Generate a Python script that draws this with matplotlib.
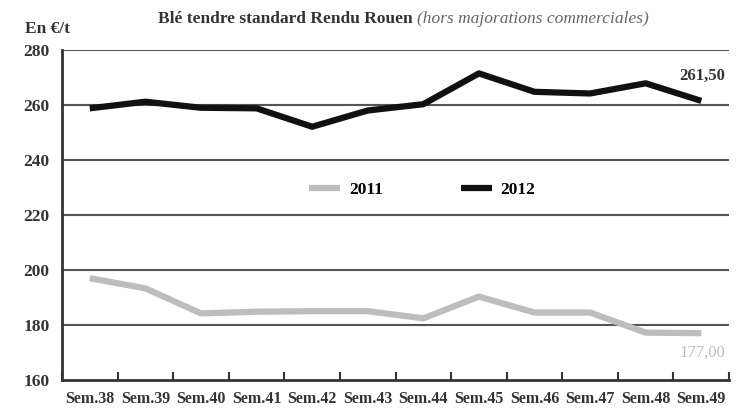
import numpy as np
import matplotlib
matplotlib.use("Agg")
import matplotlib.pyplot as plt

weeks = ["Sem.38", "Sem.39", "Sem.40", "Sem.41", "Sem.42", "Sem.43",
         "Sem.44", "Sem.45", "Sem.46", "Sem.47", "Sem.48", "Sem.49"]
prix_2011 = [197, 193.3, 184.2, 184.8, 185, 185, 182.4, 190.3, 184.5, 184.5, 177.2, 177.0]
prix_2012 = [258.8, 261.2, 259, 258.8, 252.1, 258, 260.3, 271.5, 264.8, 264.2, 267.9, 261.5]
yticks = [160, 180, 200, 220, 240, 260, 280]

plt.rcParams["font.family"] = ["Liberation Serif", "DejaVu Serif"]

fig = plt.figure(figsize=(7.47, 4.17), dpi=100)
ax = fig.add_axes([0.083, 0.089, 0.893, 0.791])

x = np.arange(len(weeks))
ax.plot(x, prix_2011, color="#bdbdbd", lw=4.5, solid_capstyle="butt", label="2011")
ax.plot(x, prix_2012, color="#111111", lw=4.5, solid_capstyle="butt", label="2012")

ax.set_xlim(-0.5, len(weeks) - 0.5)
ax.set_ylim(160, 280)
ax.set_yticks(yticks)
ax.set_yticklabels([str(v) for v in yticks], fontweight="bold", fontsize=12.5, color="#333333")
ax.tick_params(axis="y", length=0, pad=9)

# category ticks on the boundaries, labels centred
ax.set_xticks(np.arange(len(weeks) + 1) - 0.5)
ax.set_xticklabels([])
ax.set_xticks(x, minor=True)
ax.set_xticklabels(weeks, minor=True, fontweight="bold", fontsize=11.5, color="#333333")
ax.tick_params(axis="x", which="major", direction="in", length=6, width=1.5, color="#333333")
ax.tick_params(axis="x", which="minor", length=0, pad=8)

for v in yticks[1:]:
    ax.axhline(v, color="#555555", lw=1.5, zorder=0)

for s in ["top", "right"]:
    ax.spines[s].set_visible(False)
for s in ["left", "bottom"]:
    ax.spines[s].set_color("#333333")
    ax.spines[s].set_linewidth(2)

ax.text(x[-1] - 0.4, prix_2012[-1] + 7.5, "261,50", fontsize=12, fontweight="bold",
        color="#333333", ha="left")
ax.text(x[-1] - 0.4, prix_2011[-1] - 8.5, "177,00", fontsize=12,
        color="#bbbbbb", ha="left")

ax.legend(loc="center", bbox_to_anchor=(0.54, 0.575), ncol=2, frameon=False,
          handlelength=1.8, handletextpad=0.5, columnspacing=4.5,
          prop={"weight": "bold", "size": 12.5})

fig.text(0.033, 0.92, "En €/t", fontsize=12.5, fontweight="bold", color="#333333")
fig.text(0.558, 0.945, "Blé tendre standard Rendu Rouen ", fontsize=12.5, fontweight="bold",
         color="#333333", ha="right")
fig.text(0.558, 0.945, "(hors majorations commerciales)", fontsize=12.5, style="italic",
         color="#666666", ha="left")

fig.savefig("out.png", dpi=100)
